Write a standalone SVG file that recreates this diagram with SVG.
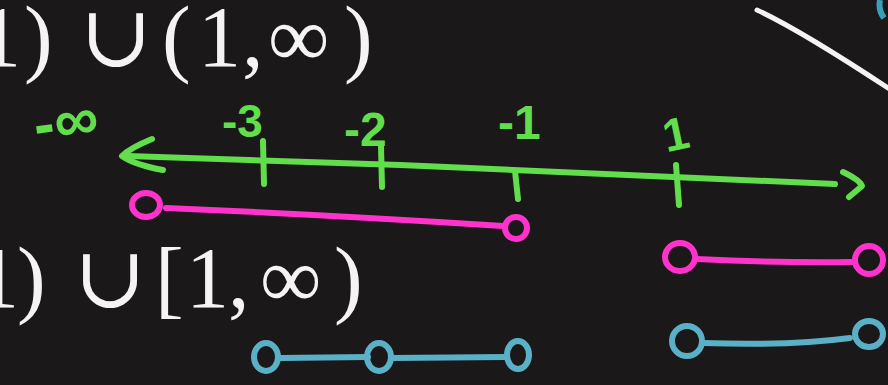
<svg xmlns="http://www.w3.org/2000/svg" width="888" height="385" viewBox="0 0 888 385">
<style>
.tx{font-family:"Liberation Serif","DejaVu Serif",serif;fill:#f4f4f4;font-size:86px}
.g{fill:none;stroke:#62dd4c;stroke-width:6;stroke-linecap:round;stroke-linejoin:round}
.gt{font-family:"Liberation Sans","DejaVu Sans",sans-serif;fill:#62dd4c;font-weight:bold}
.p{fill:none;stroke:#ff33cc;stroke-width:6;stroke-linecap:round}
.b{fill:none;stroke:#5ab0c6;stroke-width:6;stroke-linecap:round}
</style>
<rect width="888" height="385" fill="#1a1818"/>
<g id="top-text">
<text class="tx" y="66"><tspan x="-22">1</tspan><tspan x="24">)</tspan><tspan x="80">∪</tspan><tspan x="162">(</tspan><tspan x="198">1</tspan><tspan x="242">,</tspan><tspan x="268">∞</tspan><tspan x="344">)</tspan></text>
</g>
<g id="bottom-text">
<text class="tx" y="307"><tspan x="-24">1</tspan><tspan x="17">)</tspan><tspan x="74">∪</tspan><tspan x="155">[</tspan><tspan x="186">1</tspan><tspan x="228">,</tspan><tspan x="260">∞</tspan><tspan x="334">)</tspan></text>
</g>
<path d="M757 10 Q800 30 888 88" fill="none" stroke="#f4f4f4" stroke-width="5" stroke-linecap="round"/>
<path d="M880 0 Q878 10 884 18" fill="none" stroke="#3aa0b8" stroke-width="6"/>
<g id="number-line">
<path class="g" d="M128 156 L400 165 L835 184"/>
<path class="g" d="M152 139 Q130 148 122 156 Q135 165 163 170"/>
<path class="g" d="M843 172 Q860 180 862 186 Q855 192 849 197"/>
<path class="g" d="M263 141 L264 184"/>
<path class="g" d="M381 146 L382 187"/>
<path class="g" d="M515 171 L518 199"/>
<path class="g" d="M676 165 L679 205"/>
<text class="gt" x="34" y="140" font-size="62" transform="rotate(-8 80 125)">-∞</text>
<text class="gt" x="222" y="137" font-size="46">-3</text>
<text class="gt" x="344" y="146" font-size="48">-2</text>
<text class="gt" x="498" y="139" font-size="48">-1</text>
<text class="gt" x="662" y="150" font-size="46" transform="rotate(-12 675 130)">1</text>
</g>
<g id="pink">
<ellipse class="p" cx="146" cy="205" rx="14" ry="12"/>
<path class="p" d="M166 208 Q330 215 503 226"/>
<ellipse class="p" cx="516" cy="228" rx="11" ry="11"/>
<ellipse class="p" cx="680" cy="257" rx="15" ry="14"/>
<path class="p" d="M697 259 Q780 263 852 262"/>
<ellipse class="p" cx="869" cy="260" rx="14" ry="14"/>
</g>
<g id="blue">
<ellipse class="b" cx="266" cy="357" rx="12" ry="14"/>
<path class="b" d="M280 358 L368 357"/>
<ellipse class="b" cx="379" cy="357" rx="12" ry="14"/>
<path class="b" d="M392 358 L505 357"/>
<ellipse class="b" cx="518" cy="355" rx="11" ry="14"/>
<ellipse class="b" cx="687" cy="341" rx="15" ry="15"/>
<path class="b" d="M703 343 Q790 346 850 338"/>
<ellipse class="b" cx="869" cy="334" rx="14" ry="13"/>
</g>
</svg>
